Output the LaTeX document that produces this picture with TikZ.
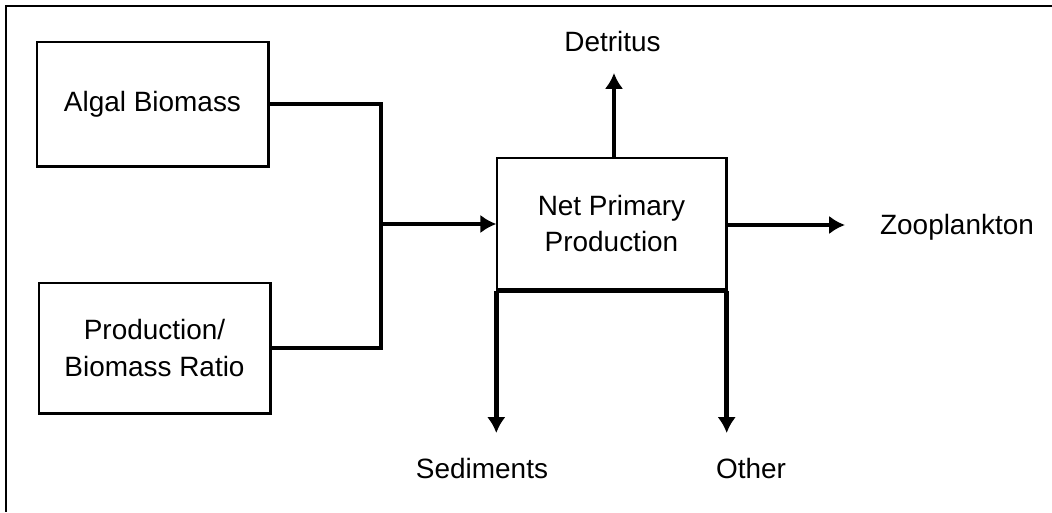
\documentclass[tikz,border=0pt]{standalone}
\usepackage{fontspec}
\setmainfont{Liberation Sans}
\usetikzlibrary{arrows.meta}

\begin{document}
\begin{tikzpicture}[>={Latex[length=9pt,width=10.5pt]},
    every node/.style={font=\fontsize{15.9}{20.5}\selectfont, align=center},
    box/.style={draw, line width=0.8pt, minimum width=4.62cm, inner sep=0pt},
    flow/.style={line width=2.6pt}]
    \useasboundingbox (0,0) rectangle (21.04,10.24);
    \draw[line width=1.5pt] (21.04,10.12) -- (0.12,10.12) -- (0.12,0);
    \node[box, minimum height=2.48cm] (a) at (3.05, 8.16) {Algal Biomass};
    \node[box, minimum height=2.6cm] (b) at (3.09, 3.28) {Production/\\Biomass Ratio};
    \node[box, minimum width=4.58cm, minimum height=2.64cm] (c) at (12.23, 5.76) {Net Primary\\Production};
    \node (d) at (12.25, 9.40) {Detritus};
    \node (z) at (19.14, 5.70) {Zooplankton};
    \node (s) at (9.64, 0.86) {Sediments};
    \node (o) at (15.02, 0.86) {Other};
    \coordinate (j) at (7.62, 5.76);
    \coordinate (dt) at (12.28, 8.78);
    \coordinate (zt) at (16.90, 5.74);
    \coordinate (st) at (10.00, 1.58);
    \draw [line width=1.7pt] (a.north east) -- (a.south east) -- (a.south west);
    \draw [line width=1.7pt] (b.north east) -- (b.south east) -- (b.south west);
    \draw [line width=1.7pt] (c.north east) -- (c.south east);
    \draw [flow] (c.south west) -- (c.south east);
    \draw [flow] (a.east) -| (j) |- (b.east);
    \draw [flow,->] (j) -- (c.west);
    \draw [flow,->] (dt |- c.north) -- (dt);
    \draw [flow,->] (c.east |- zt) -- (zt);
    \draw [flow,->] (c.south west) -- (c.south west |- st);
    \draw [flow,->] (c.south east) -- (c.south east |- st);
  \end{tikzpicture}
\end{document}
